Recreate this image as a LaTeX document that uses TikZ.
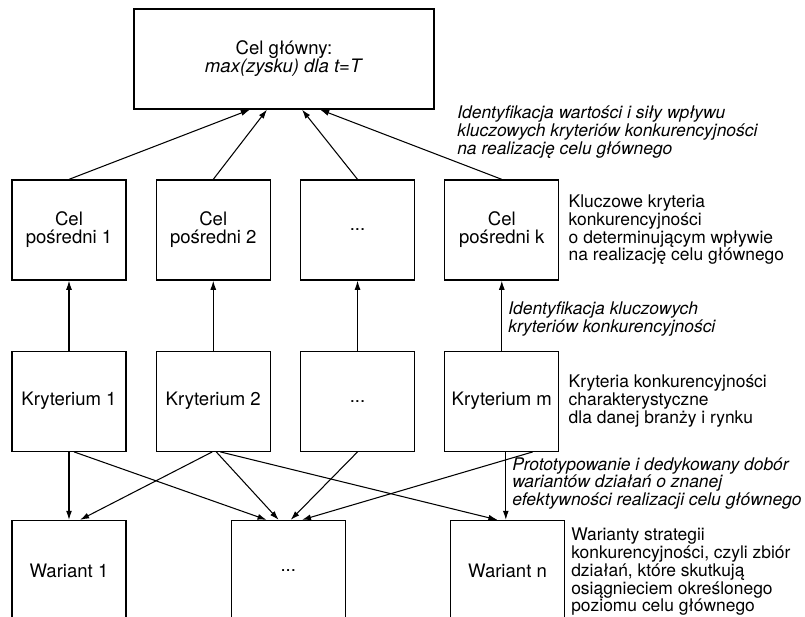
\documentclass[tikz,border=0pt]{standalone}
\usepackage{fontspec}
\setmainfont{TeX Gyre Heros}
\usetikzlibrary{arrows.meta}
\usetikzlibrary{positioning}
\tikzset{>={Latex[length=6.5pt,width=4.2pt]}}
\newcommand{\figfont}{\fontsize{12.4}{12.6}\selectfont}
\newcommand{\boxfont}{\fontsize{13.2}{12.8}\selectfont}
\tikzset{
  box/.style={draw, line width=0.9pt, minimum width=2.85cm, minimum height=2.5cm, inner sep=0pt, align=center, font=\boxfont},
  note/.style={anchor=west, align=left, inner sep=0pt},
  link/.style={->, line width=0.75pt},
}

\begin{document}
\begin{tikzpicture}[font=\figfont, node distance=0.725cm]
  \useasboundingbox (0,0) rectangle (20.125,15.425);
  % main goal
  \node [box, minimum width=7.5cm] (goal) at (7.1,13.95) {Cel główny:\\\textit{max(zysku) dla t=T}};
  % intermediate goals
  \node [box] (cel1) at (1.725,9.675) {Cel\\pośredni 1};
  \node [box, right=of cel1] (cel2) {Cel\\pośredni 2};
  \node [box, right=of cel2] (celx) {...};
  \node [box, right=of celx] (celk) {Cel\\pośredni k};
  % criteria
  \node [box, below=1.75cm of cel1] (kryt1) {Kryterium 1};
  \node [box, right=of kryt1] (kryt2) {Kryterium 2};
  \node [box, right=of kryt2] (krytx) {...};
  \node [box, right=of krytx] (krytm) {Kryterium m};
  % variants
  \node [box, below=1.7cm of kryt1] (war1) {Wariant 1};
  \node [box, right=2.6cm of war1] (warx) {...};
  \node [box, right=2.6cm of warx] (warn) {Wariant n};

  % notes
  \node [note, font=\figfont\itshape] (ident1) at (11.425,12.125)
    {Identyfikacja wartości i siły wpływu\\kluczowych kryteriów konkurencyjności\\na realizację celu głównego};
  \node [note, right=0.225cm of celk] (klucz) {Kluczowe kryteria\\konkurencyjności\\o determinującym wpływie\\na realizację celu głównego};
  \node [note, font=\figfont\itshape] (ident2) at (12.7,7.45)
    {Identyfikacja kluczowych\\kryteriów konkurencyjności};
  \node [note, right=0.225cm of krytm] (kryteria) {Kryteria konkurencyjności\\charakterystyczne\\dla danej branży i rynku};
  \node [note, font=\figfont\itshape] (proto) at (12.8,3.3375)
    {Prototypowanie i dedykowany dobór\\wariantów działań o znanej\\efektywności realizacji celu głównego};
  \node [note, anchor=south west] (warianty) at (14.275,0.03) {Warianty strategii\\konkurencyjności, czyli zbiór\\działań, które skutkują\\osiągnieciem określonego\\poziomu celu głównego};

  % arrows to the main goal
  \draw [link] (cel1.north) -- ([xshift=-0.85cm]goal.south);
  \draw [link] (cel2.north) -- ([xshift=-0.425cm]goal.south);
  \draw [link] (celx.north) -- ([xshift=0.45cm]goal.south);
  \draw [link] (celk.north) -- ([xshift=0.9cm]goal.south);
  % criteria to goals
  \foreach \k/\c in {kryt1/cel1, kryt2/cel2, krytx/celx, krytm/celk}
    \draw [link] (\k.north) -- (\c.south);
  % criteria to variants
  \draw [link] (kryt1.south) -- (war1.north);
  \draw [link] ([xshift=0.125cm]kryt1.south) -- ([xshift=-0.54cm]warx.north);
  \draw [link] ([xshift=-0.025cm]kryt2.south) -- ([xshift=0.275cm]war1.north);
  \draw [link] ([xshift=0.075cm]kryt2.south) -- ([xshift=-0.24cm]warx.north);
  \draw [link] ([xshift=0.175cm]kryt2.south) -- ([xshift=-0.25cm]warn.north);
  \draw [link] (krytx.south) -- ([xshift=0.06cm]warx.north);
  \draw [link] ([xshift=0.775cm]krytm.south) -- ([xshift=0.34cm]warx.north);
  \draw [link] ([xshift=0.1cm]krytm.south) -- ([xshift=0.1cm]krytm.south |- warn.north);
\end{tikzpicture}
\end{document}
